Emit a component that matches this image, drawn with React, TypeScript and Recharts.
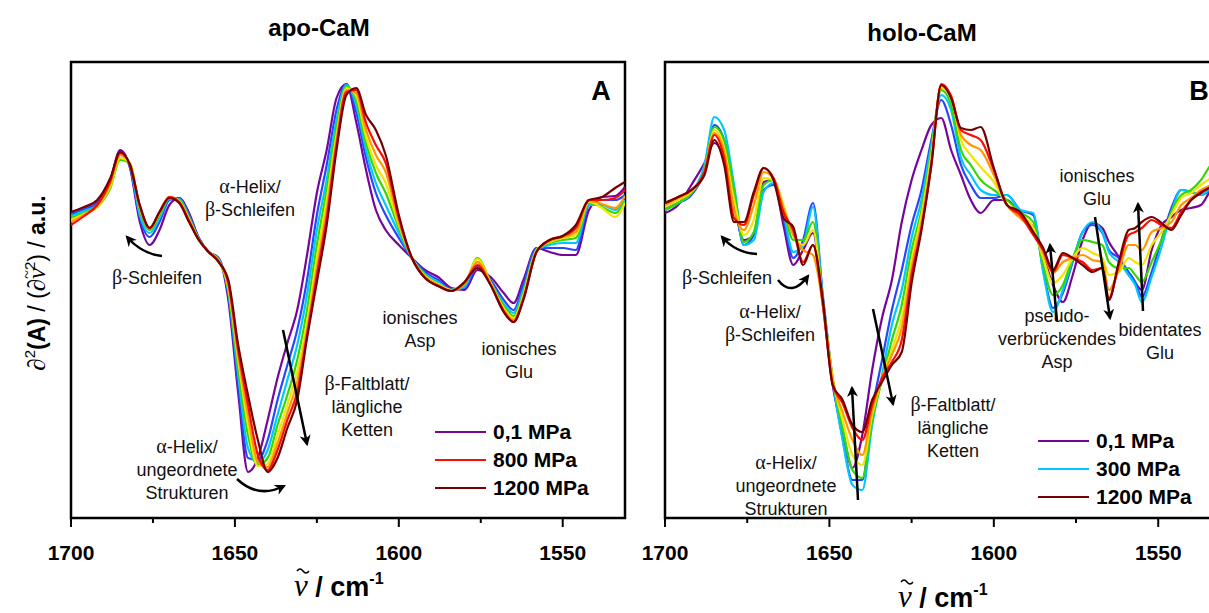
import { LineChart, Line, XAxis, YAxis, ReferenceArea } from "recharts";

const wavenumbersApo = [
  1700, 1696, 1692, 1688, 1685, 1682, 1679, 1676, 1673, 1670, 1667, 1664, 1661, 1658,
  1655, 1652, 1649, 1646, 1643, 1640, 1637, 1634, 1631, 1628, 1625, 1622, 1619, 1616, 1613, 1610, 1607, 1604, 1600, 1596,
  1592, 1588, 1584, 1580, 1576, 1572, 1568, 1565, 1562, 1558, 1554, 1550, 1546, 1542, 1538, 1534, 1531,
];
const wavenumbersHolo = [
  1700, 1696, 1692, 1688, 1685, 1682, 1679, 1676, 1673, 1670, 1667, 1664, 1661, 1658, 1655, 1652, 1649, 1646, 1643, 1640,
  1637, 1634, 1631, 1628, 1625, 1622, 1619, 1616, 1613, 1610, 1607, 1604, 1600, 1596, 1592, 1588, 1585, 1582, 1579, 1576,
  1573, 1570, 1567, 1565, 1562, 1559, 1557, 1555, 1552, 1549, 1546, 1543, 1540, 1537, 1534, 1530,
];

// apo-CaM second derivative (a.u.)
const apo01 = [85, 90, 97, 120, 150, 132, 78, 55, 70, 95, 102, 87, 62, 48, 42, 0, -93, -172, -158, -120, -78, -43, -10, 45, 107, 150, 202, 216, 178, 130, 90, 70, 55, 42, 30, 23, 12, 10, 30, 23, 7, -3, 20, 52, 48, 45, 45, 90, 103, 104, 113];
const apo200 = [86, 91, 97, 120, 148, 133, 82, 63, 78, 100, 102, 85, 62, 48, 42, 5, -85, -158, -160, -140, -100, -65, -30, 20, 85, 135, 190, 216, 188, 142, 107, 85, 62, 42, 28, 20, 11, 12, 34, 20, 0, -10, 15, 52, 52, 52, 50, 95, 100, 100, 105];
const apo300 = [84, 89, 95, 117, 145, 134, 85, 67, 82, 101, 101, 83, 61, 48, 41, 8, -75, -148, -163, -150, -115, -80, -45, 5, 70, 120, 180, 215, 195, 150, 117, 95, 67, 42, 26, 18, 10, 13, 38, 18, -4, -13, 10, 50, 55, 57, 57, 95, 95, 90, 100];
const apo400 = [82, 87, 93, 112, 140, 137, 90, 70, 85, 102, 100, 82, 60, 48, 40, 10, -68, -135, -165, -158, -125, -95, -60, -10, 55, 110, 172, 214, 200, 157, 127, 107, 72, 42, 25, 16, 10, 15, 42, 18, -6, -16, 7, 50, 57, 60, 62, 97, 93, 87, 98];
const apo500 = [80, 86, 93, 114, 142, 137, 92, 72, 87, 103, 99, 81, 60, 48, 40, 12, -60, -125, -166, -164, -135, -105, -72, -22, 42, 100, 165, 212, 204, 163, 135, 117, 75, 42, 24, 16, 10, 16, 41, 17, -8, -18, 5, 50, 58, 62, 65, 98, 92, 83, 97];
const apo600 = [78, 85, 94, 117, 145, 136, 93, 72, 88, 103, 98, 80, 60, 48, 39, 15, -55, -115, -162, -167, -143, -113, -82, -30, 32, 90, 160, 210, 207, 170, 145, 128, 78, 42, 23, 15, 9, 17, 38, 16, -10, -20, 3, 49, 59, 63, 68, 99, 96, 92, 104];
const apo800 = [75, 84, 95, 119, 147, 135, 94, 72, 88, 103, 98, 79, 60, 48, 39, 17, -50, -105, -155, -170, -150, -120, -92, -35, 25, 82, 155, 208, 210, 177, 155, 137, 82, 42, 22, 14, 9, 17, 35, 15, -11, -22, 1, 48, 60, 64, 72, 100, 100, 102, 110];
const apo1200 = [88, 93, 100, 122, 148, 135, 95, 72, 88, 102, 97, 78, 60, 48, 38, 20, -45, -95, -140, -172, -158, -128, -100, -38, 18, 75, 150, 205, 212, 185, 170, 145, 85, 42, 22, 14, 9, 18, 32, 15, -12, -22, 0, 48, 60, 64, 75, 100, 103, 112, 118];

// holo-CaM second derivative (a.u.)
const holo01 = [87, 95, 115, 137, 157, 140, 95, 60, 65, 118, 120, 75, 35, 50, 67, -5, -85, -130, -168, -135, -70, -18, 20, 78, 120, 150, 175, 182, 150, 125, 100, 87, 100, 100, 85, 72, 45, 15, -2, 25, 60, 77, 72, 58, 43, 25, 17, 10, 50, 75, 83, 90, 92, 95, 110, 120];
const holo200 = [92, 97, 105, 130, 175, 160, 105, 55, 65, 110, 115, 82, 42, 60, 97, 5, -80, -138, -180, -180, -110, -60, -10, 30, 75, 110, 160, 200, 175, 135, 115, 102, 102, 105, 90, 85, 30, -8, 7, 38, 68, 75, 67, 50, 42, 28, 18, 3, 28, 60, 92, 110, 108, 105, 110, 118];
const holo300 = [90, 97, 107, 135, 183, 170, 115, 55, 60, 108, 117, 87, 48, 55, 93, 2, -80, -140, -185, -190, -125, -75, -25, 10, 62, 100, 155, 205, 190, 142, 125, 110, 105, 105, 90, 87, 28, -12, 10, 40, 68, 78, 68, 48, 38, 25, 15, -2, 23, 53, 88, 110, 108, 105, 112, 120];
const holo400 = [90, 97, 107, 130, 173, 160, 110, 58, 68, 115, 120, 92, 60, 60, 78, 0, -78, -128, -170, -178, -120, -80, -40, -5, 50, 90, 150, 210, 195, 150, 135, 120, 110, 100, 88, 78, 35, 5, 15, 42, 60, 58, 55, 38, 32, 32, 25, 18, 38, 60, 88, 105, 110, 120, 135, 145];
const holo500 = [93, 100, 108, 128, 170, 152, 100, 65, 80, 122, 120, 95, 65, 55, 70, -2, -78, -120, -155, -165, -115, -78, -50, -18, 40, 85, 145, 212, 202, 160, 145, 133, 118, 95, 85, 72, 42, 17, 25, 42, 52, 47, 42, 25, 28, 42, 38, 35, 55, 68, 85, 102, 107, 115, 122, 130];
const holo600 = [95, 102, 109, 128, 167, 148, 90, 70, 95, 128, 122, 92, 65, 50, 45, -5, -80, -112, -140, -155, -110, -78, -55, -28, 32, 78, 140, 214, 204, 165, 155, 150, 125, 95, 82, 68, 47, 27, 38, 42, 45, 40, 38, 10, 30, 55, 55, 50, 68, 72, 78, 95, 102, 110, 115, 122];
const holo800 = [97, 103, 110, 128, 165, 142, 82, 75, 105, 132, 122, 88, 70, 38, 55, -3, -85, -103, -128, -140, -105, -78, -62, -40, 25, 72, 135, 216, 204, 170, 165, 160, 130, 95, 85, 65, 50, 28, 45, 42, 38, 30, 32, 2, 35, 65, 68, 72, 80, 75, 72, 88, 100, 108, 113, 120];
const holo1200 = [97, 103, 110, 125, 160, 135, 78, 78, 108, 132, 120, 82, 73, 35, 55, 0, -85, -100, -125, -132, -100, -82, -65, -52, 17, 70, 135, 215, 202, 172, 170, 173, 132, 95, 88, 68, 52, 30, 47, 42, 35, 28, 32, 0, 38, 70, 72, 78, 83, 77, 70, 85, 100, 107, 113, 120];

const apoSeries = [apo01, apo200, apo300, apo400, apo500, apo600, apo800, apo1200];
const holoSeries = [holo01, holo200, holo300, holo400, holo500, holo600, holo800, holo1200];
const pressureLabels = ["0,1 MPa", "200 MPa", "300 MPa", "400 MPa", "500 MPa", "600 MPa", "800 MPa", "1200 MPa"];
const apoLegend = [0, 6, 7];
const holoLegend = [0, 2, 7];

const xTicks = [1700, 1675, 1650, 1625, 1600, 1575, 1550];
const yDomain = [-218, 238];

const lineColors = ["#76069a", "#2747ff", "#00c8ff", "#33d800", "#f2e400", "#ff9800", "#ff0a00", "#760000"];
const sans = "'Liberation Sans', Arial, Helvetica, sans-serif";
const serif = "'Liberation Serif', 'Times New Roman', serif";

function buildRows(wn: number[], series: number[][]) {
  return wn.map((w, i) => {
    const row: Record<string, number> = { w };
    series.forEach((s, k) => {
      row["p" + k] = s[i];
    });
    return row;
  });
}

const AxisTick = (props: any) => {
  const { x, y, payload } = props;
  const major = payload.value % 50 === 0;
  return (
    <g>
      <line x1={x} x2={x} y1={y} y2={y + (major ? 9 : 5)} stroke="#000" strokeWidth={2} />
      {major && (
        <text x={x} y={y + 42} textAnchor="middle" fontSize={21} fontWeight="bold" fontFamily={sans} fill="#000">
          {payload.value}
        </text>
      )}
    </g>
  );
};

function Panel({ rows, left, width, mLeft, mRight, domain }: any) {
  return (
    <div style={{ position: "absolute", left, top: 0 }}>
      <LineChart width={width} height={613} data={rows} margin={{ top: 62, right: mRight, bottom: 65, left: mLeft }}>
        <XAxis
          dataKey="w"
          type="number"
          domain={domain}
          reversed
          allowDataOverflow
          ticks={xTicks}
          interval={0}
          tickLine={false}
          tickSize={0}
          tickMargin={0}
          axisLine={false}
          tick={<AxisTick />}
          height={30}
        />
        <YAxis hide domain={yDomain} allowDataOverflow />
        {lineColors.map((c, k) => (
          <Line key={k} dataKey={"p" + k} stroke={c} strokeWidth={2.2} dot={false} type="monotone" isAnimationActive={false} />
        ))}
        <ReferenceArea x1={domain[0]} x2={domain[1]} y1={yDomain[0]} y2={yDomain[1]} fill="none" stroke="#000" strokeWidth={2.5} ifOverflow="visible" />
      </LineChart>
    </div>
  );
}

function Words({ x, y, lines, size = 18 }: { x: number; y: number; lines: string[]; size?: number }) {
  return (
    <text x={x} y={y} textAnchor="middle" fontSize={size} fontFamily={sans} fill="#111">
      {lines.map((l, i) => {
        const greek = l[0] === "α" || l[0] === "β";
        return (
          <tspan key={i} x={x} dy={i === 0 ? 0 : 23}>
            {greek ? <tspan fontFamily={serif} fontSize={size + 2}>{l[0]}</tspan> : null}
            {greek ? l.slice(1) : l}
          </tspan>
        );
      })}
    </text>
  );
}

function LegendBox({ x, y, items }: { x: number; y: number; items: number[] }) {
  return (
    <g>
      {items.map((k, i) => (
        <g key={k}>
          <line x1={x} x2={x + 51} y1={y + i * 28} y2={y + i * 28} stroke={lineColors[k]} strokeWidth={2.2} />
          <text x={x + 58} y={y + i * 28 + 7} fontSize={21} fontWeight="bold" fontFamily={sans} fill="#000">
            {pressureLabels[k]}
          </text>
        </g>
      ))}
    </g>
  );
}

// "ν̃ / cm-1": the tilde is drawn as a small wave over the nu
function AxisTitle({ x, y }: { x: number; y: number }) {
  return (
    <g>
      <text x={x} y={y} fontSize={27} fontWeight="bold" fontFamily={sans} fill="#000">
        <tspan fontFamily={serif} fontStyle="italic" fontWeight="normal" fontSize={31}>ν</tspan>
        <tspan> / cm</tspan>
        <tspan dy={-12} fontSize={16}>-1</tspan>
      </text>
      <path d={`M${x + 3} ${y - 25} q3 -4 6 0 t6 0`} stroke="#000" strokeWidth={1.5} fill="none" />
    </g>
  );
}

export default function App() {
  const apoRows = buildRows(wavenumbersApo, apoSeries);
  const holoRows = buildRows(wavenumbersHolo, holoSeries);
  const arrow = { stroke: "#000", strokeWidth: 2.5, fill: "none", markerEnd: "url(#head)" };

  return (
    <div style={{ position: "fixed", left: 0, top: 0, width: 1209, height: 613, overflow: "hidden", background: "#fff" }}>
      <Panel rows={apoRows} left={0} width={640} mLeft={71} mRight={15} domain={[1531, 1700]} />
      <Panel rows={holoRows} left={640} width={600} mLeft={25} mRight={16} domain={[1530, 1700]} />
      <svg width={1209} height={613} style={{ position: "absolute", left: 0, top: 0, pointerEvents: "none" }}>
        <defs>
          <marker id="head" viewBox="0 0 10 10" refX="8" refY="5" markerWidth="11" markerHeight="11" markerUnits="userSpaceOnUse" orient="auto">
            <path d="M0,0 L10,5 L0,10 L3,5 Z" fill="#000" />
          </marker>
        </defs>

        <text x={319} y={36} textAnchor="middle" fontSize={24} fontWeight="bold" fontFamily={sans}>apo-CaM</text>
        <text x={922} y={41} textAnchor="middle" fontSize={24} fontWeight="bold" fontFamily={sans}>holo-CaM</text>
        <text x={601} y={100} textAnchor="middle" fontSize={27} fontWeight="bold" fontFamily={sans}>A</text>
        <text x={1199} y={100} textAnchor="middle" fontSize={27} fontWeight="bold" fontFamily={sans}>B</text>

        <g transform="translate(37 283) rotate(-90)">
          <text x={0} y={8} textAnchor="middle" fontSize={23} fontFamily={sans} fill="#000">
            <tspan fontFamily={serif} fontSize={25}>∂</tspan>
            <tspan dy={-10} fontSize={15}>2</tspan>
            <tspan dy={10} fontWeight="bold">(A)</tspan>
            <tspan> / (</tspan>
            <tspan fontFamily={serif} fontSize={25}>∂</tspan>
            <tspan fontFamily={serif} fontStyle="italic" fontSize={25}>ν</tspan>
            <tspan dx={-11} dy={-13} fontFamily={serif} fontSize={16}>~</tspan>
            <tspan dy={3} fontSize={15}>2</tspan>
            <tspan dy={10}>) / </tspan>
            <tspan fontWeight="bold">a.u.</tspan>
          </text>
        </g>

        <AxisTitle x={294} y={596} />
        <AxisTitle x={898} y={607} />

        {/* panel A notes */}
        <Words x={250} y={193} lines={["α-Helix/", "β-Schleifen"]} />
        <Words x={157} y={284} lines={["β-Schleifen"]} />
        <Words x={420} y={324} lines={["ionisches", "Asp"]} />
        <Words x={519} y={355} lines={["ionisches", "Glu"]} />
        <Words x={367} y={390} lines={["β-Faltblatt/", "längliche", "Ketten"]} />
        <Words x={187} y={453} lines={["α-Helix/", "ungeordnete", "Strukturen"]} />
        <path d="M162 256 Q142 254 127 237" {...arrow} />
        <path d="M237 479 Q258 499 284 486" {...arrow} />
        <path d="M283 330 L307 444" {...arrow} />
        <LegendBox x={435} y={432} items={apoLegend} />

        {/* panel B notes */}
        <Words x={727} y={284} lines={["β-Schleifen"]} />
        <Words x={770} y={318} lines={["α-Helix/", "β-Schleifen"]} />
        <Words x={786} y={469} lines={["α-Helix/", "ungeordnete", "Strukturen"]} />
        <Words x={953} y={411} lines={["β-Faltblatt/", "längliche", "Ketten"]} />
        <Words x={1057} y={322} lines={["pseudo-", "verbrückendes", "Asp"]} />
        <Words x={1097} y={182} lines={["ionisches", "Glu"]} />
        <Words x={1160} y={336} lines={["bidentates", "Glu"]} />
        <path d="M757 254 Q736 253 722 237" {...arrow} />
        <path d="M778 280 Q792 298 808 276" {...arrow} />
        <path d="M858 500 L852 388" {...arrow} />
        <path d="M873 309 L893 404" {...arrow} />
        <path d="M1057 321 L1050 245" {...arrow} />
        <path d="M1095 217 L1110 318" {...arrow} />
        <path d="M1143 311 L1138 204" {...arrow} />
        <LegendBox x={1038} y={441} items={holoLegend} />
      </svg>
    </div>
  );
}
